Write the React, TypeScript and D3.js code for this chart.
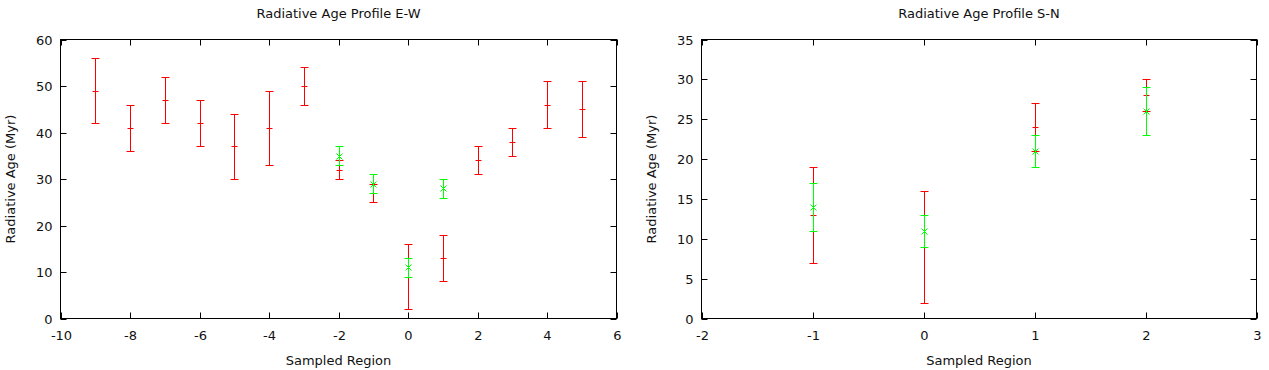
import * as d3 from "d3";

// E-W profile (red = one estimate, green = second estimate)
const ewRedX = [-9, -8, -7, -6, -5, -4, -3, -2, -1, 0, 1, 2, 3, 4, 5];
const ewRedY = [49, 41, 47, 42, 37, 41, 50, 32, 27, 9, 13, 34, 38, 46, 45];
const ewRedErr = [7, 5, 5, 5, 7, 8, 4, 2, 2, 7, 5, 3, 3, 5, 6];
const ewGreenX = [-2, -1, 0, 1];
const ewGreenY = [35, 29, 11, 28];
const ewGreenErr = [2, 2, 2, 2];

// S-N profile
const snRedX = [-1, 0, 1, 2];
const snRedY = [13, 9, 24, 28];
const snRedErr = [6, 7, 3, 2];
const snGreenX = [-1, 0, 1, 2];
const snGreenY = [14, 11, 21, 26];
const snGreenErr = [3, 2, 2, 3];

const ewXTicks = [-10, -8, -6, -4, -2, 0, 2, 4, 6];
const ewYTicks = [0, 10, 20, 30, 40, 50, 60];
const snXTicks = [-2, -1, 0, 1, 2, 3];
const snYTicks = [0, 5, 10, 15, 20, 25, 30, 35];

const FONT = "DejaVu Sans, sans-serif";
const TICK = 6;
const CAP = 4;

type Series = { x: number[]; y: number[]; err: number[]; color: string; marker: "plus" | "cross" };

const Panel = ({ left, right, top, bottom, xDomain, yDomain, xTicks, yTicks, title, series }: {
    left: number; right: number; top: number; bottom: number;
    xDomain: [number, number]; yDomain: [number, number];
    xTicks: number[]; yTicks: number[]; title: string; series: Series[];
}) => {
    const xScale = d3.scaleLinear().domain(xDomain).range([left, right]);
    const yScale = d3.scaleLinear().domain(yDomain).range([bottom, top]);
    const cx = (left + right) / 2;
    const cy = (top + bottom) / 2;

    return (
        <g fontFamily={FONT} fontSize={13} fill="#111">
            <text x={cx} y={18} textAnchor="middle">{title}</text>
            <text transform={`translate(${left - 46},${cy}) rotate(-90)`} textAnchor="middle">Radiative Age (Myr)</text>
            <text x={cx} y={365} textAnchor="middle">Sampled Region</text>

            {xTicks.map((t) => {
                const px = Math.round(xScale(t)) + 0.5;
                return (
                    <g key={"x" + t}>
                        <line x1={px} x2={px} y1={bottom} y2={bottom - TICK} stroke="#000" />
                        <line x1={px} x2={px} y1={top} y2={top + TICK} stroke="#000" />
                        <text x={px} y={340} textAnchor="middle">{t}</text>
                    </g>
                );
            })}
            {yTicks.map((t) => {
                const py = Math.round(yScale(t)) + 0.5;
                return (
                    <g key={"y" + t}>
                        <line x1={left} x2={left + TICK} y1={py} y2={py} stroke="#000" />
                        <line x1={right} x2={right - TICK} y1={py} y2={py} stroke="#000" />
                        <text x={left - 8} y={py + 4} textAnchor="end">{t}</text>
                    </g>
                );
            })}

            {series.map((s, si) => (
                <g key={"s" + si} stroke={s.color} strokeWidth={1} fill="none">
                    {s.x.map((xv, i) => {
                        const px = Math.round(xScale(xv)) + 0.5;
                        const lo = Math.round(yScale(s.y[i] - s.err[i])) + 0.5;
                        const hi = Math.round(yScale(s.y[i] + s.err[i])) + 0.5;
                        const py = Math.round(yScale(s.y[i])) + 0.5;
                        return (
                            <g key={i}>
                                <line x1={px} x2={px} y1={lo} y2={hi} />
                                <line x1={px - CAP} x2={px + CAP} y1={lo} y2={lo} />
                                <line x1={px - CAP} x2={px + CAP} y1={hi} y2={hi} />
                                {s.marker === "plus" ? (
                                    <path d={`M${px - 3},${py}H${px + 3}M${px},${py - 3}V${py + 3}`} />
                                ) : (
                                    <path d={`M${px - 3},${py - 3}L${px + 3},${py + 3}M${px - 3},${py + 3}L${px + 3},${py - 3}`} />
                                )}
                            </g>
                        );
                    })}
                </g>
            ))}

            <rect x={left} y={top} width={right - left} height={bottom - top} fill="none" stroke="#000" />
        </g>
    );
};

export default function App() {
    return (
        <svg width={1269} height={370} style={{ position: "absolute", left: 0, top: 0, background: "#fff" }}>
            <rect width={1269} height={370} fill="#fff" />
            <Panel
                left={60.5} right={616.5} top={39.5} bottom={318.5}
                xDomain={[-10, 6]} yDomain={[0, 60]}
                xTicks={ewXTicks} yTicks={ewYTicks}
                title="Radiative Age Profile E-W"
                series={[
                    { x: ewRedX, y: ewRedY, err: ewRedErr, color: "#ff0000", marker: "plus" },
                    { x: ewGreenX, y: ewGreenY, err: ewGreenErr, color: "#00ff00", marker: "cross" },
                ]}
            />
            <Panel
                left={701.5} right={1256.5} top={39.5} bottom={318.5}
                xDomain={[-2, 3]} yDomain={[0, 35]}
                xTicks={snXTicks} yTicks={snYTicks}
                title="Radiative Age Profile S-N"
                series={[
                    { x: snRedX, y: snRedY, err: snRedErr, color: "#ff0000", marker: "plus" },
                    { x: snGreenX, y: snGreenY, err: snGreenErr, color: "#00ff00", marker: "cross" },
                ]}
            />
        </svg>
    );
}
